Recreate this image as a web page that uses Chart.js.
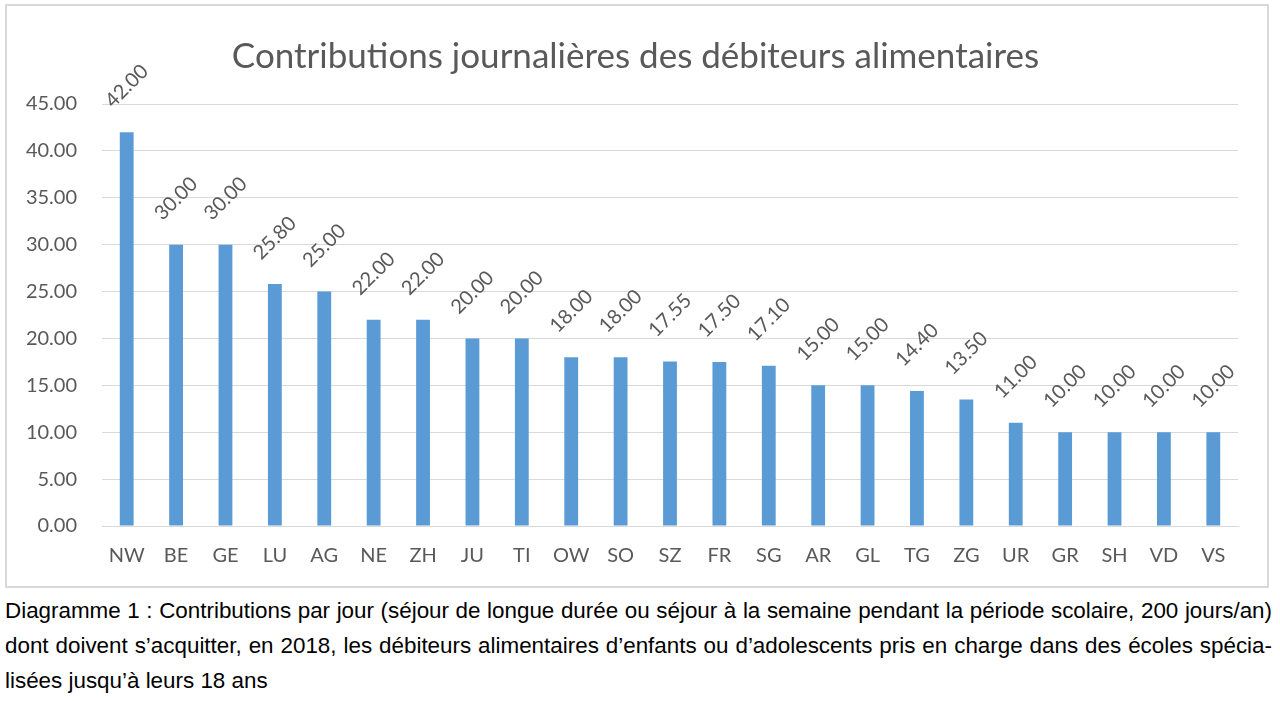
<!DOCTYPE html>
<html>
<head>
<meta charset="utf-8">
<script src="https://cdn.jsdelivr.net/npm/chart.js@4"></script>
<style>
  html, body { margin: 0; padding: 0; background: #fff; width: 1280px; height: 701px; overflow: hidden; }
  #box { position: absolute; left: 5px; top: 4px; width: 1260px; height: 580px; border: 2px solid #d9d9d9; }
  #box canvas { display: block; }
  #caption { position: absolute; left: 5px; top: 593px; width: 1267px; font-family: "Liberation Sans", Arial, sans-serif; font-size: 22.4px; line-height: 35px; color: #000; }
  #caption div { white-space: nowrap; }
  #caption .j { text-align: justify; text-align-last: justify; }
</style>
</head>
<body>
<div id="box"><canvas id="c" width="1260" height="580"></canvas></div>
<div id="caption">
  <div class="j">Diagramme 1 : Contributions par jour (séjour de longue durée ou séjour à la semaine pendant la période scolaire, 200 jours/an)</div>
  <div class="j">dont doivent s’acquitter, en 2018, les débiteurs alimentaires d’enfants ou d’adolescents pris en charge dans des écoles spécia-</div>
  <div>lisées jusqu’à leurs 18 ans</div>
</div>
<script>
const titleText = "Contributions journalières des débiteurs alimentaires";
const categories = ["NW","BE","GE","LU","AG","NE","ZH","JU","TI","OW","SO","SZ","FR","SG","AR","GL","TG","ZG","UR","GR","SH","VD","VS"];
const values = [42.00, 30.00, 30.00, 25.80, 25.00, 22.00, 22.00, 20.00, 20.00, 18.00, 18.00, 17.55, 17.50, 17.10, 15.00, 15.00, 14.40, 13.50, 11.00, 10.00, 10.00, 10.00, 10.00];
const yMin = 0, yMax = 45, yStep = 5;

const textColor = "#595959";
const gridColor = "#d9d9d9";
const barColor = "#5b9bd5";
const fontFamily = "Lato, 'Open Sans', sans-serif";

const rotatedLabels = {
  id: "rotatedLabels",
  afterDatasetsDraw(chart) {
    const ctx = chart.ctx;
    const meta = chart.getDatasetMeta(0);
    ctx.save();
    ctx.font = "20px " + fontFamily;
    ctx.fillStyle = textColor;
    ctx.textAlign = "center";
    ctx.textBaseline = "middle";
    meta.data.forEach((bar, i) => {
      ctx.save();
      ctx.translate(bar.x, bar.y - 46);
      ctx.rotate(-Math.PI / 4);
      ctx.fillText(values[i].toFixed(2), 0, 0);
      ctx.restore();
    });
    ctx.restore();
  }
};

new Chart(document.getElementById("c"), {
  type: "bar",
  data: {
    labels: categories,
    datasets: [{
      data: values,
      yAxisID: "y",
      backgroundColor: barColor,
      borderWidth: 0,
      barPercentage: 0.28,
      categoryPercentage: 1.0
    }]
  },
  options: {
    responsive: false,
    animation: false,
    devicePixelRatio: 1,
    layout: { padding: { left: 13, right: 16, top: 0, bottom: 0 } },
    plugins: {
      legend: { display: false },
      tooltip: { enabled: false },
      title: {
        display: true,
        text: titleText,
        color: textColor,
        font: { family: fontFamily, size: 35, weight: "normal" },
        padding: { top: 30, bottom: 26 }
      }
    },
    scales: {
      x: {
        grid: { display: false, drawTicks: false },
        border: { display: true, color: gridColor, width: 1 },
        ticks: { color: textColor, font: { family: fontFamily, size: 20 }, padding: 18, maxRotation: 0, autoSkip: false },
        afterFit(scale) { scale.height = 60; }
      },
      y: {
        min: yMin, max: yMax,
        grid: { color: gridColor, drawTicks: false, lineWidth: 1 },
        border: { display: false },
        ticks: {
          stepSize: yStep,
          color: textColor,
          font: { family: fontFamily, size: 20 },
          padding: 25,
          callback: v => Number(v).toFixed(2)
        },
        afterFit(scale) { scale.width = 82; }
      },
      yRight: {
        position: "right",
        min: yMin, max: yMax,
        grid: { display: false, drawOnChartArea: false, drawTicks: false },
        border: { display: false },
        ticks: { display: false },
        afterFit(scale) { scale.width = 13; }
      }
    }
  },
  plugins: [rotatedLabels]
});
</script>
</body>
</html>
